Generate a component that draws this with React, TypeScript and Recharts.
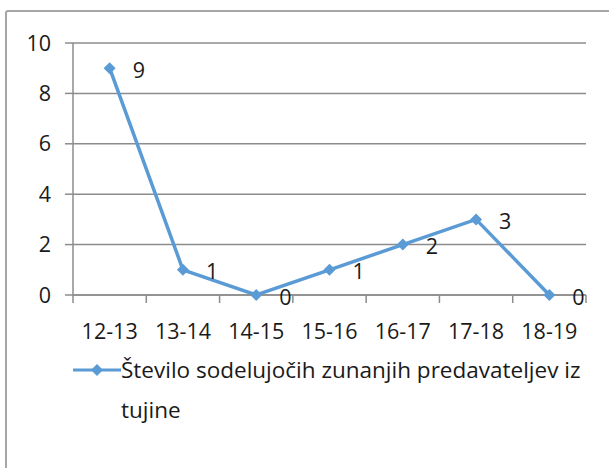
import React from 'react';
import { LineChart, Line, XAxis, YAxis, CartesianGrid, Legend, LabelList } from 'recharts';

const years = ['12-13', '13-14', '14-15', '15-16', '16-17', '17-18', '18-19'];
const lecturers = [9, 1, 0, 1, 2, 3, 0];
const yTicks = [0, 2, 4, 6, 8, 10];
const seriesName = 'Število sodelujočih zunanjih predavateljev iz tujine';

const data = years.map((y, i) => ({ year: y, value: lecturers[i] }));

const FONT = '"Open Sans", sans-serif';
const BLUE = '#5B9BD5';
const GRID = '#8c8c8c';
const TEXT = '#1a1a1a';

function Diamond(props: any) {
  const { cx, cy } = props;
  if (cx == null || cy == null) return null;
  const s = 6;
  return <path d={`M${cx},${cy - s} L${cx + s},${cy} L${cx},${cy + s} L${cx - s},${cy} Z`} fill={BLUE} />;
}

function XTick(props: any) {
  const { x, y, payload, index, visibleTicksCount } = props;
  const half = payload?.offset ?? 0;
  const axisY = y - 10;
  return (
    <g>
      <line x1={x - half} x2={x - half} y1={axisY} y2={axisY + 8} stroke={GRID} strokeWidth={1.5} />
      {index === visibleTicksCount - 1 && (
        <line x1={x + half} x2={x + half} y1={axisY} y2={axisY + 8} stroke={GRID} strokeWidth={1.5} />
      )}
      <text x={x} y={y + 25} textAnchor="middle" dominantBaseline="central" fill={TEXT} fontSize={21.5} fontFamily={FONT}>
        {payload.value}
      </text>
    </g>
  );
}

function PointLabel(props: any) {
  const { x, y, value } = props;
  return (
    <text x={x + 23} y={y + 1} dominantBaseline="central" fill={TEXT} fontSize={21.5} fontFamily={FONT}>
      {value}
    </text>
  );
}

function LegendBox() {
  return (
    <div style={{ position: 'relative', height: 100, fontFamily: FONT }}>
      <svg width={50} height={20} style={{ position: 'absolute', left: 72, top: 10 }}>
        <line x1={1} x2={49} y1={10} y2={10} stroke={BLUE} strokeWidth={3} />
        <path d="M25,4 L31,10 L25,16 L19,10 Z" fill={BLUE} />
      </svg>
      <div style={{ position: 'absolute', left: 121, top: 0, width: 480, fontSize: 22.5, lineHeight: '40px', color: TEXT }}>
        {seriesName}
      </div>
    </div>
  );
}

export default function App() {
  return (
    <div style={{ position: 'absolute', left: 0, top: 0, width: 609, height: 468, overflow: 'hidden', background: '#fff' }}>
      <div style={{ position: 'absolute', left: 5, top: 10, width: 700, height: 600, border: '2px solid #a6a6a6', borderRadius: 3 }} />
      <LineChart width={609} height={468} data={data} margin={{ top: 43, right: 23, left: 0, bottom: 18 }}>
        <CartesianGrid vertical={false} stroke={GRID} strokeWidth={1.5} />
        <XAxis
          dataKey="year"
          scale="band"
          height={55}
          tickSize={8}
          tickMargin={2}
          tickLine={false}
          axisLine={{ stroke: GRID, strokeWidth: 1.5 }}
          tick={<XTick />}
          interval={0}
        />
        <YAxis
          domain={[0, 10]}
          ticks={yTicks}
          width={73}
          tickSize={8}
          tickMargin={14}
          axisLine={{ stroke: GRID, strokeWidth: 1.5 }}
          tickLine={{ stroke: GRID, strokeWidth: 1.5 }}
          tick={{ fill: TEXT, fontSize: 21.5, fontFamily: FONT }}
        />
        <Legend verticalAlign="bottom" height={100} content={() => <LegendBox />} wrapperStyle={{ left: 0, width: 609 }} />
        <Line
          dataKey="value"
          name={seriesName}
          stroke={BLUE}
          strokeWidth={3.5}
          dot={<Diamond />}
          activeDot={false}
          isAnimationActive={false}
        >
          <LabelList dataKey="value" content={<PointLabel />} />
        </Line>
      </LineChart>
    </div>
  );
}
